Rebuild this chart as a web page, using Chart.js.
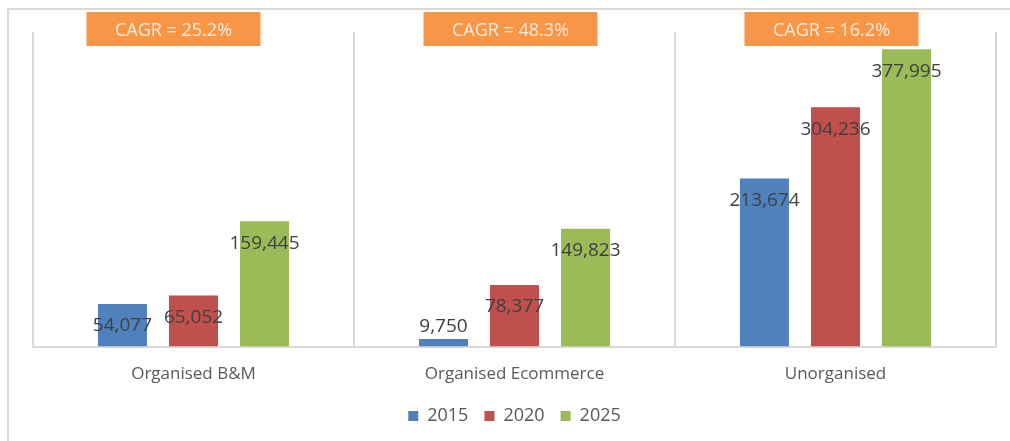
<!DOCTYPE html>
<html>
<head>
<meta charset="utf-8">
<script src="https://cdn.jsdelivr.net/npm/chart.js@4.4.1/dist/chart.umd.min.js"></script>
<style>
    html, body { margin: 0; padding: 0; background: #fff; overflow: hidden; }
    #wrap { position: relative; width: 1010px; height: 441px; }
    #frame {
        position: absolute; left: 7px; top: 8px; width: 1100px; height: 500px;
        border-left: 2px solid #d9d9d9; border-top: 2px solid #d9d9d9;
    }
    canvas { position: absolute; left: 0; top: 0; }
</style>
</head>
<body>
<div id="wrap">
    <div id="frame"></div>
    <canvas id="marketChart" width="1010" height="441"></canvas>
</div>
<script>
// --- Data ---
const categories = ['Organised B&M', 'Organised Ecommerce', 'Unorganised'];
const years = ['2015', '2020', '2025'];
const values2015 = [54077, 9750, 213674];
const values2020 = [65052, 78377, 304236];
const values2025 = [159445, 149823, 377995];
const cagrLabels = ['CAGR = 25.2%', 'CAGR = 48.3%', 'CAGR = 16.2%'];

const barColors = ['#4f81bd', '#c0504d', '#9bbb59'];
const FONT = "'Open Sans', sans-serif";

// value labels: inside the bar top, or just above when the bar is too short
const valueLabels = {
    id: 'valueLabels',
    afterDatasetsDraw(chart) {
        const ctx = chart.ctx;
        ctx.save();
        ctx.font = `19px ${FONT}`;
        ctx.fillStyle = '#404040';
        ctx.textAlign = 'center';
        ctx.textBaseline = 'middle';
        chart.data.datasets.forEach((ds, di) => {
            chart.getDatasetMeta(di).data.forEach((bar, i) => {
                const h = bar.base - bar.y;
                const y = h < 30 ? bar.y - 12 : bar.y + 22;
                ctx.fillText(ds.data[i].toLocaleString('en-US'), bar.x, y);
            });
        });
        ctx.restore();
    }
};

// orange CAGR boxes above each group
const cagrBoxes = {
    id: 'cagrBoxes',
    afterDraw(chart) {
        const ctx = chart.ctx;
        const x = chart.scales.x;
        const shift = [-20, -4, -4];
        ctx.save();
        cagrLabels.forEach((txt, i) => {
            const cx = x.getPixelForValue(i) + shift[i];
            ctx.fillStyle = '#f79646';
            ctx.fillRect(cx - 87, 12, 174, 34);
            ctx.fillStyle = '#fdeada';
            ctx.font = `18px ${FONT}`;
            ctx.textAlign = 'center';
            ctx.textBaseline = 'middle';
            ctx.fillText(txt, cx, 31);
        });
        ctx.restore();
    }
};

const ctx = document.getElementById('marketChart').getContext('2d');
new Chart(ctx, {
    type: 'bar',
    data: {
        labels: categories,
        datasets: [
            { label: years[0], data: values2015, backgroundColor: barColors[0] },
            { label: years[1], data: values2020, backgroundColor: barColors[1] },
            { label: years[2], data: values2025, backgroundColor: barColors[2] }
        ]
    },
    options: {
        responsive: false,
        animation: false,
        devicePixelRatio: 1,
        layout: { padding: { top: 32, left: 33, right: 14, bottom: 6 } },
        datasets: { bar: { categoryPercentage: 0.664, barPercentage: 0.69 } },
        scales: {
            x: {
                grid: { color: '#d9d9d9', lineWidth: 2, drawTicks: false, offset: true },
                border: { color: '#d9d9d9', width: 2 },
                ticks: { color: '#595959', font: { family: FONT, size: 17 }, padding: 17 },
                afterFit: (scale) => { scale.height -= 10; }
            },
            y: {
                display: false,
                min: 0,
                max: 400000
            }
        },
        plugins: {
            legend: {
                position: 'bottom',
                labels: {
                    boxWidth: 10,
                    boxHeight: 10,
                    padding: 16,
                    color: '#595959',
                    font: { family: FONT, size: 18 }
                }
            },
            tooltip: { enabled: false }
        }
    },
    plugins: [valueLabels, cagrBoxes]
});
</script>
</body>
</html>
